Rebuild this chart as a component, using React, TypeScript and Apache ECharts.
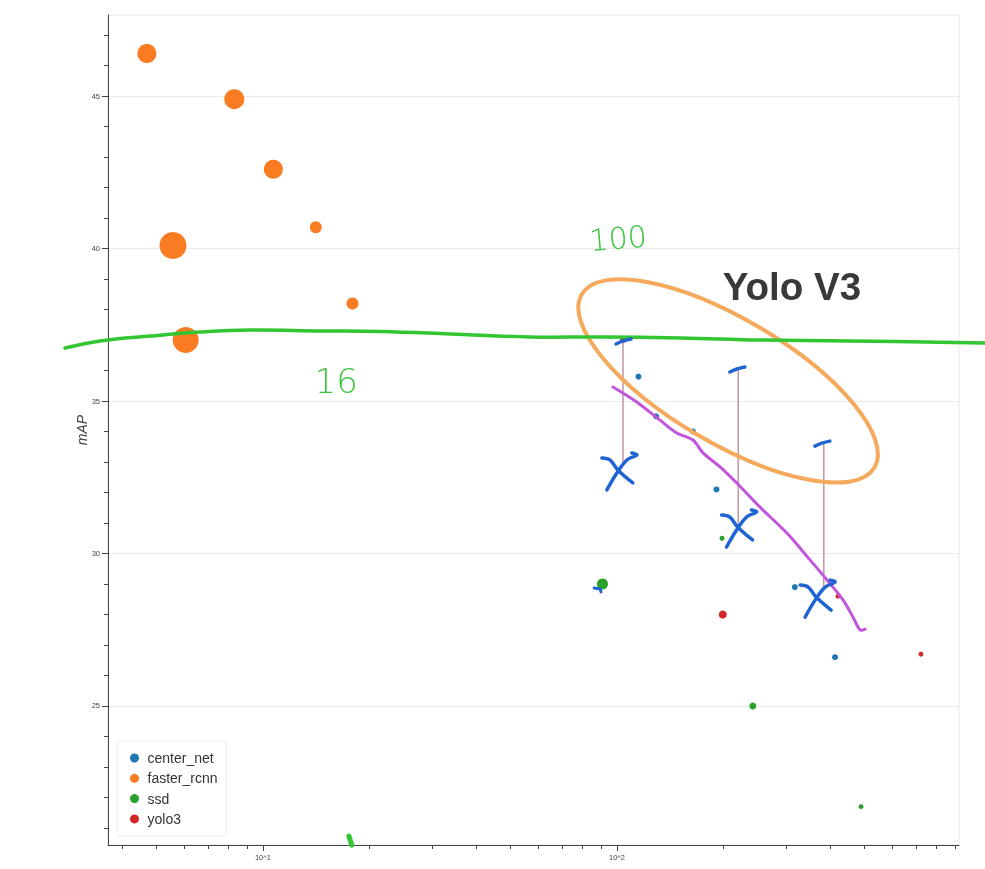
import * as echarts from "echarts";
import { useEffect, useRef } from "react";

// model families: speed (log x) vs mAP, marker size per model
const centerNetX = [115, 129, 164, 191, 318, 413];
const centerNetY = [35.8, 34.5, 34.0, 32.1, 28.9, 26.6];
const centerNetSize = [6, 6, 6, 6, 6, 6];

const fasterRcnnX = [4.7, 8.3, 10.7, 14.1, 5.57, 17.9, 6.05];
const fasterRcnnY = [46.4, 44.9, 42.6, 40.7, 40.1, 38.2, 37.0];
const fasterRcnnSize = [19, 20, 19, 12, 27, 12, 26];

const ssdX = [91, 198, 242, 489];
const ssdY = [29.0, 30.5, 25.0, 21.7];
const ssdSize = [11, 5, 7, 5];

const yolo3X = [104, 199, 421, 722];
const yolo3Y = [37.0, 28.0, 28.6, 26.7];
const yolo3Size = [6, 8, 5, 5];

const seriesNames = ["center_net", "faster_rcnn", "ssd", "yolo3"];

// axes
const xMin = 3.65;
const xMax = 925;
const yMin = 20.44;
const yMax = 47.66;
const xMajor = [10, 100];
const xMinor = [4, 5, 6, 7, 8, 9, 20, 30, 40, 50, 60, 70, 80, 90, 200, 300, 400, 500, 600, 700, 800, 900];
const yMajor = [25, 30, 35, 40, 45];
const yMinor = [21, 22, 23, 24, 26, 27, 28, 29, 31, 32, 33, 34, 36, 37, 38, 39, 41, 42, 43, 44, 46, 47];

// hand-drawn notes, in data space
const greenStroke = [
  [2.76, 36.74], [3.47, 36.97], [4.8, 37.13], [6.64, 37.26], [9.19, 37.33], [14.5, 37.3],
  [21.4, 37.28], [33.8, 37.2], [56.8, 37.1], [89.6, 37.1], [151, 37.07], [253, 37.0],
  [455, 36.97], [1097, 36.9],
];
const purpleStroke = [
  [97.4, 35.46], [113.7, 34.97], [132, 34.38], [147.5, 33.95], [164, 33.72], [175, 33.3],
  [195.5, 32.84], [218, 32.31], [253.5, 31.52], [302, 30.67], [351, 29.79], [392, 29.13],
  [435, 28.48], [464, 27.92], [486, 27.49], [502, 27.52],
];
const riseLines = [
  [[104, 37.0], [104, 33.0]],
  [[220, 36.0], [220, 30.9]],
  [[384, 33.6], [384, 28.9]],
];
const crossAt = [[101.9, 32.74], [222, 30.87], [370, 28.57]];
const tickAt = [[104, 36.97], [218, 36.05], [379, 33.62]];
const ellipseAt = [206, 35.66];
const titleAt = [312, 38.74];
const note100At = [100.7, 40.34];
const note16At = [16.1, 35.66];

function pack(xs, ys, ss) {
  return xs.map((x, i) => [x, ys[i], ss[i]]);
}

export default function App() {
  const chartRef = useRef(null);
  useEffect(() => {
    const chart = echarts.init(chartRef.current, null, { renderer: "svg" });
    chart.setOption(getChartOption());
    chart.setOption({ graphic: getNotes(chart) });
    return () => {
      chart.dispose();
    };
  }, []);

  return (
    <div
      ref={chartRef}
      style={{ position: "fixed", left: 0, top: 0, width: 985, height: 869 }}
    />
  );
}

function getChartOption() {
  const axisColor = "#444";
  const scatter = (name, data, color) => ({
    name,
    type: "scatter",
    data,
    symbolSize: (v) => v[2],
    itemStyle: { color, opacity: 1 },
  });
  return {
    animation: false,
    color: ["#1f77b4", "#f97b22", "#2ca02c", "#d62728"],
    grid: {
      left: 108,
      right: 26,
      top: 15,
      bottom: 24,
      show: true,
      borderColor: "#e6e6e6",
      borderWidth: 1,
    },
    legend: {
      data: seriesNames,
      orient: "vertical",
      left: 117,
      top: 741,
      padding: [10, 9, 10, 13],
      itemGap: 6.3,
      itemWidth: 16,
      itemHeight: 9,
      icon: "circle",
      borderColor: "#ececec",
      borderWidth: 1,
      backgroundColor: "#fff",
      textStyle: { fontSize: 14, color: "#333", fontFamily: "Liberation Sans" },
    },
    xAxis: [
      {
        type: "log",
        logBase: 10,
        min: xMin,
        max: xMax,
        position: "bottom",
        axisLine: { show: true, lineStyle: { color: axisColor } },
        axisTick: { show: true, customValues: xMinor, length: 4, lineStyle: { color: axisColor } },
        axisLabel: { show: false },
        splitLine: { show: false },
        minorTick: { show: false },
      },
      {
        type: "log",
        logBase: 10,
        min: xMin,
        max: xMax,
        position: "bottom",
        offset: 0,
        axisLine: { show: false },
        axisTick: { show: true, customValues: xMajor, length: 6, lineStyle: { color: axisColor } },
        axisLabel: {
          customValues: xMajor,
          fontSize: 7.5,
          color: axisColor,
          margin: 8,
          fontFamily: "Liberation Sans",
          formatter: (v) => "10^" + Math.round(Math.log10(v)),
        },
        splitLine: { show: false },
      },
    ],
    yAxis: [
      {
        type: "value",
        min: yMin,
        max: yMax,
        position: "left",
        name: "mAP",
        nameLocation: "middle",
        nameGap: 19,
        nameTextStyle: {
          fontStyle: "italic",
          fontSize: 14,
          color: axisColor,
          fontFamily: "Liberation Sans",
        },
        axisLine: { show: true, lineStyle: { color: axisColor } },
        axisTick: { show: true, customValues: yMinor, length: 4, lineStyle: { color: axisColor } },
        axisLabel: { show: false },
        splitLine: { show: false },
      },
      {
        type: "value",
        min: yMin,
        max: yMax,
        position: "left",
        offset: 0,
        axisLine: { show: false },
        axisTick: { show: true, customValues: yMajor, length: 6, lineStyle: { color: axisColor } },
        axisLabel: {
          customValues: yMajor,
          fontSize: 7.5,
          color: axisColor,
          margin: 8,
          fontFamily: "Liberation Sans",
        },
        splitLine: { show: true, lineStyle: { color: "#ebebeb" } },
      },
    ],
    series: [
      scatter("center_net", pack(centerNetX, centerNetY, centerNetSize), "#1f77b4"),
      scatter("faster_rcnn", pack(fasterRcnnX, fasterRcnnY, fasterRcnnSize), "#f97b22"),
      scatter("ssd", pack(ssdX, ssdY, ssdSize), "#2ca02c"),
      scatter("yolo3", pack(yolo3X, yolo3Y, yolo3Size), "#d62728"),
    ],
  };
}

function getNotes(chart) {
  const px = (p) => chart.convertToPixel({ seriesIndex: 0 }, p);
  const pen = (stroke, lineWidth) => ({
    stroke,
    lineWidth,
    fill: null,
    lineCap: "round",
    lineJoin: "round",
  });
  const blue = "#1e64d2";
  const shift = (anchor, offsets) => {
    const [ax, ay] = px(anchor);
    return offsets.map(([dx, dy]) => [ax + dx, ay + dy]);
  };
  const items = [];

  riseLines.forEach(([a, b]) => {
    const p1 = px(a);
    const p2 = px(b);
    items.push({
      type: "line",
      shape: { x1: p1[0], y1: p1[1], x2: p2[0], y2: p2[1] },
      style: { stroke: "#b47a86", lineWidth: 1.2 },
      z: 100,
    });
  });

  items.push({
    type: "polyline",
    shape: { points: greenStroke.map(px), smooth: 0.4 },
    style: pen("#33c633", 3.5),
    z: 101,
  });
  items.push({
    type: "polyline",
    shape: { points: purpleStroke.map(px), smooth: 0.3 },
    style: pen("#c155dc", 3),
    z: 101,
  });

  crossAt.forEach((c) => {
    items.push({
      type: "polyline",
      shape: { points: shift(c, [[-18, -12], [-10, -10], [-2, 0], [13, 13]]), smooth: 0.4 },
      style: pen(blue, 3.5),
      z: 102,
    });
    items.push({
      type: "polyline",
      shape: { points: shift(c, [[12, -17], [17, -15], [7, -10], [-3, 3], [-13, 20]]), smooth: 0.4 },
      style: pen(blue, 3.5),
      z: 102,
    });
  });

  tickAt.forEach((c) => {
    items.push({
      type: "polyline",
      shape: { points: shift(c, [[-7, 3], [0, 0], [8, -2]]), smooth: 0.3 },
      style: pen(blue, 3.5),
      z: 102,
    });
  });
  items.push({
    type: "polyline",
    shape: { points: shift([89.6, 28.87], [[-6, 0], [0, 1], [1, 4]]) },
    style: pen(blue, 3),
    z: 102,
  });
  items.push({
    type: "polyline",
    shape: { points: shift([17.6, 20.6], [[-1, -4], [1, 2], [2, 5]]) },
    style: pen("#33c633", 5),
    z: 102,
  });

  const ec = px(ellipseAt);
  items.push({
    type: "ellipse",
    x: ec[0],
    y: ec[1],
    rotation: -0.534,
    shape: { cx: 0, cy: 0, rx: 170, ry: 62 },
    style: { stroke: "#f5a95c", lineWidth: 4, fill: null },
    z: 100,
  });

  const tc = px(titleAt);
  items.push({
    type: "text",
    x: tc[0],
    y: tc[1],
    style: {
      text: "Yolo V3",
      fontSize: 38.5,
      fontWeight: "bold",
      fontFamily: "Liberation Sans",
      fill: "#393939",
      align: "center",
      verticalAlign: "middle",
    },
    z: 103,
  });

  const n1 = px(note100At);
  items.push({
    type: "text",
    x: n1[0],
    y: n1[1],
    rotation: 0.08,
    style: {
      text: "100",
      fontSize: 30,
      fontFamily: "DejaVu Sans",
      fontWeight: "lighter",
      fill: "#3cc43c",
      align: "center",
      verticalAlign: "middle",
    },
    z: 103,
  });
  const n2 = px(note16At);
  items.push({
    type: "text",
    x: n2[0],
    y: n2[1],
    style: {
      text: "16",
      fontSize: 34,
      fontFamily: "DejaVu Sans",
      fontWeight: "lighter",
      fill: "#3cc43c",
      align: "center",
      verticalAlign: "middle",
    },
    z: 103,
  });

  return items;
}
